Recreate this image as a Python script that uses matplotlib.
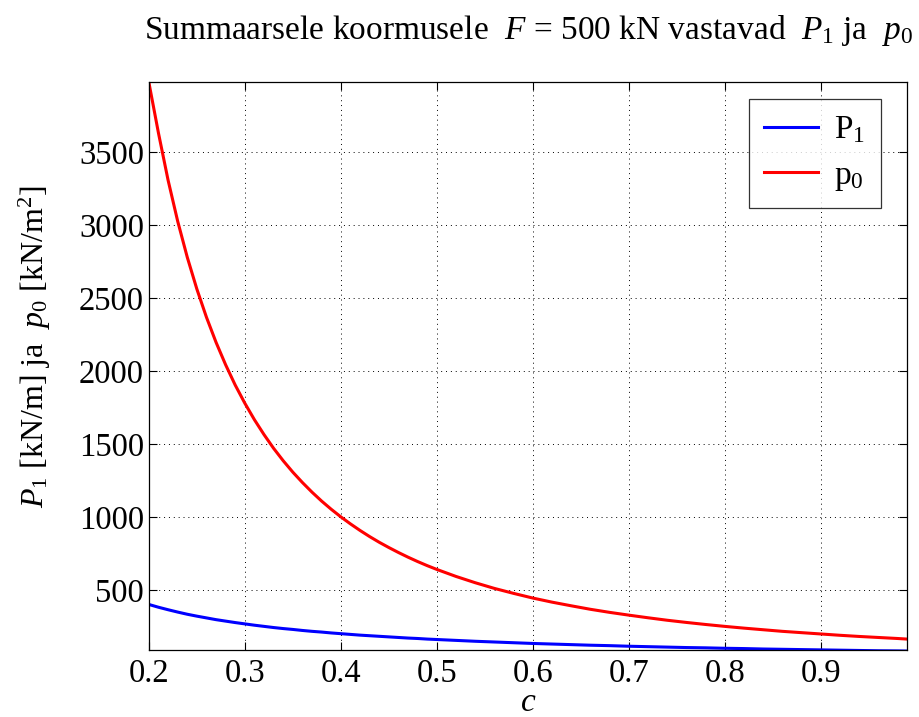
import matplotlib
matplotlib.use("Agg")
import matplotlib.pyplot as plt

plt.rcParams['font.family'] = ['Liberation Serif', 'DejaVu Serif']
plt.rcParams['mathtext.fontset'] = 'custom'
plt.rcParams['mathtext.rm'] = 'Liberation Serif'
plt.rcParams['mathtext.it'] = 'Liberation Serif:italic'

# values
c = [0.20, 0.21, 0.22, 0.23, 0.24, 0.25, 0.26, 0.27, 0.28, 0.29,
     0.30, 0.31, 0.32, 0.33, 0.34, 0.35, 0.36, 0.37, 0.38, 0.39,
     0.40, 0.41, 0.42, 0.43, 0.44, 0.45, 0.46, 0.47, 0.48, 0.49,
     0.50, 0.52, 0.54, 0.56, 0.58, 0.60, 0.62, 0.64, 0.66, 0.68,
     0.70, 0.72, 0.74, 0.76, 0.78, 0.80, 0.82, 0.84, 0.86, 0.88,
     0.90, 0.92, 0.94, 0.96, 0.98, 0.99]
P1 = [400, 381, 364, 348, 333, 320, 308, 296, 286, 276,
      267, 258, 250, 242, 235, 229, 222, 216, 211, 205,
      200, 195, 190, 186, 182, 178, 174, 170, 167, 163,
      160, 154, 148, 143, 138, 133, 129, 125, 121, 118,
      114, 111, 108, 105, 103, 100, 98, 95, 93, 91,
      89, 87, 85, 83, 82, 81]
p0 = [3975, 3628, 3306, 3025, 2778, 2560, 2367, 2195, 2041, 1902,
      1778, 1665, 1563, 1469, 1384, 1306, 1235, 1169, 1108, 1052,
      1000, 952, 907, 865, 826, 790, 756, 724, 694, 666,
      640, 592, 549, 510, 476, 444, 416, 391, 367, 346,
      327, 309, 292, 277, 263, 250, 238, 227, 216, 207,
      198, 189, 181, 174, 167, 163]
xticks = [0.2, 0.3, 0.4, 0.5, 0.6, 0.7, 0.8, 0.9]
yticks = [500, 1000, 1500, 2000, 2500, 3000, 3500]

fig = plt.figure(figsize=(9.19, 7.17), dpi=100)
ax = fig.add_axes([0.162, 0.093, 0.825, 0.792])

ax.plot(c, P1, color='#0000ff', lw=2.2, label='P$_1$')
ax.plot(c, p0, color='#ff0000', lw=2.2, label='p$_0$')

ax.set_xlim(0.2, 0.99)
ax.set_ylim(86, max(p0))
ax.set_xticks(xticks)
ax.set_yticks(yticks)
ax.set_xticklabels(['%g' % t for t in xticks])
ax.tick_params(direction='in', top=True, right=True, labelsize=23.5, length=6, width=0.8)
ax.tick_params(axis='x', pad=6)
ax.grid(True, color='black', linestyle=(0, (1, 4)), lw=0.7)
for s in ax.spines.values():
    s.set_linewidth(0.9)

# x label placed as figure text so it sits below the tick labels
fig.text(0.575, 0.008, '$c$', ha='center', va='baseline', fontsize=24)
ax.set_ylabel('$P_1$ [kN/m] ja  $p_0$ [kN/m$^2$]', fontsize=23)
ax.yaxis.set_label_coords(-0.127, 0.535)
fig.text(0.575, 0.957, 'Summaarsele koormusele  $F$ = 500 kN vastavad  $P_1$ ja  $p_0$',
         ha='center', va='center', fontsize=24)

leg = ax.legend(loc='upper right', fontsize=24, frameon=True, fancybox=False,
                edgecolor='black', handlelength=1.6, handletextpad=0.5,
                borderpad=0.45, borderaxespad=0, labelspacing=0.45,
                bbox_to_anchor=(0.965, 0.97))
leg.get_frame().set_linewidth(0.9)

fig.savefig('out.png', dpi=100)
